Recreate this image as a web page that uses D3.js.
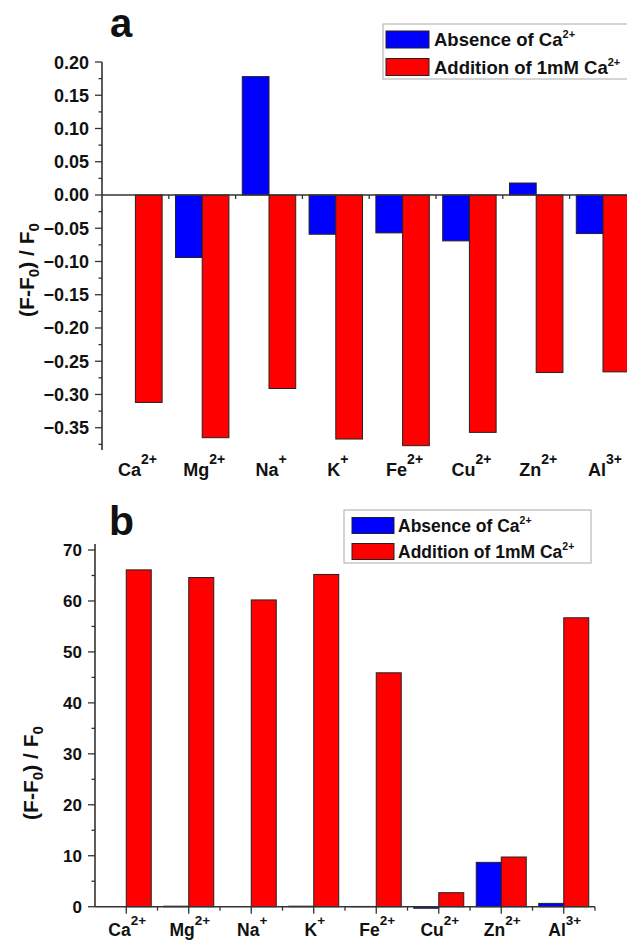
<!DOCTYPE html>
<html>
<head>
<meta charset="utf-8">
<script src="https://cdn.jsdelivr.net/npm/d3@7"></script>
<style>
  html, body { margin: 0; padding: 0; background: #fff; }
  svg { display: block; }
  text { font-family: "Liberation Sans", Arial, Helvetica, sans-serif; font-weight: bold; fill: #111; }
</style>
</head>
<body>
<svg id="chart" width="627" height="941"></svg>
<script>
// ---- data ----
const categories = ["Ca", "Mg", "Na", "K", "Fe", "Cu", "Zn", "Al"];
const charges    = ["2+", "2+", "+", "+", "2+", "2+", "2+", "3+"];
const seriesNames = ["Absence of Ca", "Addition of 1mM Ca"];
const seriesSup = ["2+", "2+"];
const colors = ["#0000FF", "#FF0000"];

// panel a
const absenceA  = [0, -0.094, 0.178, -0.059, -0.057, -0.069, 0.018, -0.058];
const additionA = [-0.312, -0.365, -0.291, -0.367, -0.377, -0.357, -0.267, -0.266];
const yTicksA = [-0.35, -0.30, -0.25, -0.20, -0.15, -0.10, -0.05, 0.00, 0.05, 0.10, 0.15, 0.20];

// panel b
const absenceB  = [0, 0.1, 0, 0.1, 0.05, -0.3, 8.7, 0.65];
const additionB = [66.1, 64.6, 60.2, 65.2, 45.9, 2.75, 9.75, 56.7];
const yTicksB = [0, 10, 20, 30, 40, 50, 60, 70];

const svg = d3.select("#chart");
const axisColor = "#333";

function ionLabel(g, x, y, base, sup, size, supSize, supDy) {
  const t = g.append("text").attr("x", x).attr("y", y).attr("text-anchor", "middle")
    .style("font-size", size + "px");
  t.append("tspan").text(base);
  t.append("tspan").attr("dy", -supDy).style("font-size", supSize + "px").text(sup);
  return t;
}

function yTitle(g, x, y, size) {
  const t = g.append("text").attr("transform", `translate(${x},${y}) rotate(-90)`)
    .attr("text-anchor", "middle").style("font-size", size + "px");
  t.append("tspan").text("(F-F");
  t.append("tspan").attr("dy", 5).style("font-size", (size * 0.72) + "px").text("0");
  t.append("tspan").attr("dy", -5).text(") / F");
  t.append("tspan").attr("dy", 5).style("font-size", (size * 0.72) + "px").text("0");
}

function legend(g, x0, y0, w, h, sw, rows, fs, supFs) {
  g.append("rect").attr("x", x0).attr("y", y0).attr("width", w).attr("height", h)
    .attr("fill", "#fff").attr("stroke", "#aaa").attr("stroke-width", 1);
  rows.forEach((r, i) => {
    g.append("rect").attr("x", r.sx).attr("y", r.sy).attr("width", sw.w).attr("height", sw.h)
      .attr("fill", colors[i]).attr("stroke", "#222").attr("stroke-width", 1);
    const t = g.append("text").attr("x", r.tx).attr("y", r.ty).style("font-size", fs + "px");
    t.append("tspan").text(seriesNames[i]);
    t.append("tspan").attr("dy", -8).style("font-size", supFs + "px").text(seriesSup[i]);
  });
}

// ================= Panel a =================
(function () {
  const g = svg.append("g");
  const x = d3.scaleBand().domain(categories).range([102, 636.4]).paddingInner(0).paddingOuter(0);
  const y = d3.scaleLinear().domain([-0.3835, 0.2]).range([450, 62]);
  const bw = x.bandwidth() * 0.4;
  const cx = c => x(c) + x.bandwidth() / 2;

  // y axis
  g.append("line").attr("x1", 102).attr("x2", 102).attr("y1", y(0.2)).attr("y2", y(-0.3835))
    .attr("stroke", axisColor).attr("stroke-width", 1.6);
  const minor = d3.range(-0.375, 0.2001, 0.025);
  minor.forEach(v => {
    const major = yTicksA.some(t => Math.abs(t - v) < 1e-6);
    g.append("line").attr("x1", 102).attr("x2", major ? 95 : 98.5)
      .attr("y1", y(v)).attr("y2", y(v)).attr("stroke", axisColor).attr("stroke-width", 1.3);
  });
  yTicksA.forEach(v => {
    g.append("text").attr("x", 89).attr("y", y(v) + 6.5).attr("text-anchor", "end")
      .style("font-size", "18px").text(d3.format(".2f")(v));
  });

  // zero line ticks
  categories.forEach((c, i) => {
    g.append("line").attr("x1", x(c) + x.bandwidth()).attr("x2", x(c) + x.bandwidth())
      .attr("y1", y(0)).attr("y2", y(0) + 4).attr("stroke", axisColor).attr("stroke-width", 1.3);
  });

  // bars
  [absenceA, additionA].forEach((vals, s) => {
    g.selectAll(null).data(categories).enter().append("rect")
      .attr("x", c => s === 0 ? cx(c) - bw : cx(c))
      .attr("width", bw)
      .attr("y", (c, i) => y(Math.max(0, vals[i])))
      .attr("height", (c, i) => Math.abs(y(vals[i]) - y(0)))
      .attr("fill", colors[s]).attr("stroke", "#222").attr("stroke-width", 1);
  });

  // zero line
  g.append("line").attr("x1", 102).attr("x2", 640).attr("y1", y(0)).attr("y2", y(0))
    .attr("stroke", axisColor).attr("stroke-width", 1.6);

  // category labels
  categories.forEach((c, i) => ionLabel(g, cx(c) + 2, 476, c, charges[i], 18, 14, 12));

  yTitle(g, 34, 270, 21);

  g.append("text").attr("x", 110).attr("y", 37).style("font-size", "40px").text("a");

  legend(g, 383, 24, 260, 55, { w: 43, h: 17 }, [
    { sx: 386, sy: 31, tx: 434, ty: 46 },
    { sx: 386, sy: 58.5, tx: 434, ty: 73.5 }
  ], 18.5, 11);
})();

// ================= Panel b =================
(function () {
  const g = svg.append("g");
  const x = d3.scaleBand().domain(categories).range([95, 595]).paddingInner(0).paddingOuter(0);
  const y = d3.scaleLinear().domain([0, 70]).range([906.7, 550]);
  const bw = x.bandwidth() * 0.4;
  const cx = c => x(c) + x.bandwidth() / 2;

  // bars
  [absenceB, additionB].forEach((vals, s) => {
    g.selectAll(null).data(categories).enter().append("rect")
      .attr("x", c => s === 0 ? cx(c) - bw : cx(c))
      .attr("width", bw)
      .attr("y", (c, i) => y(Math.max(0, vals[i])))
      .attr("height", (c, i) => Math.abs(y(vals[i]) - y(0)))
      .attr("fill", colors[s]).attr("stroke", "#222").attr("stroke-width", 1);
  });

  // y axis
  g.append("line").attr("x1", 95).attr("x2", 95).attr("y1", y(71.2)).attr("y2", y(0))
    .attr("stroke", axisColor).attr("stroke-width", 1.6);
  d3.range(0, 70.1, 5).forEach(v => {
    const major = v % 10 === 0;
    g.append("line").attr("x1", 95).attr("x2", major ? 88 : 91.5)
      .attr("y1", y(v)).attr("y2", y(v)).attr("stroke", axisColor).attr("stroke-width", 1.3);
  });
  yTicksB.forEach(v => {
    g.append("text").attr("x", 82).attr("y", y(v) + 6).attr("text-anchor", "end")
      .style("font-size", "17px").text(v);
  });

  // x axis
  g.append("line").attr("x1", 95).attr("x2", 595).attr("y1", y(0)).attr("y2", y(0))
    .attr("stroke", axisColor).attr("stroke-width", 1.6);
  categories.forEach((c, i) => {
    g.append("line").attr("x1", cx(c)).attr("x2", cx(c)).attr("y1", y(0)).attr("y2", y(0) + 7)
      .attr("stroke", axisColor).attr("stroke-width", 1.3);
    g.append("line").attr("x1", x(c) + x.bandwidth()).attr("x2", x(c) + x.bandwidth())
      .attr("y1", y(0)).attr("y2", y(0) + 4).attr("stroke", axisColor).attr("stroke-width", 1.3);
  });
  categories.forEach((c, i) => ionLabel(g, cx(c) + 1, 936, c, charges[i], 17.5, 13.5, 11));

  yTitle(g, 38, 773, 21);

  g.append("text").attr("x", 109).attr("y", 535).style("font-size", "41px").text("b");

  legend(g, 344, 510, 247, 53, { w: 42, h: 16 }, [
    { sx: 352, sy: 517.5, tx: 398, ty: 532 },
    { sx: 352, sy: 543.5, tx: 398, ty: 557.5 }
  ], 17.5, 10.5);
})();
</script>
</body>
</html>
